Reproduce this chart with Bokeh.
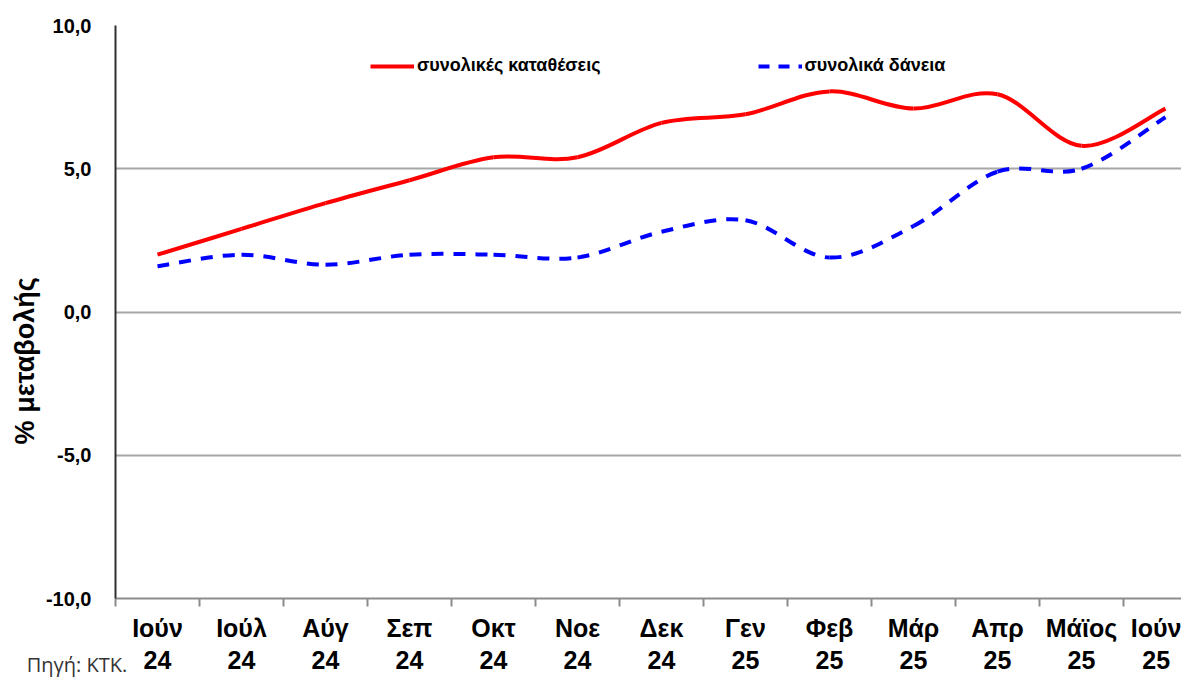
import numpy as np
from bokeh.plotting import figure
from bokeh.models import FixedTicker, Legend, LegendItem, ColumnDataSource, Range1d
from bokeh.embed import file_html
from bokeh.resources import INLINE

months = ["Ιούν", "Ιούλ", "Αύγ", "Σεπ", "Οκτ", "Νοε", "Δεκ", "Γεν", "Φεβ", "Μάρ", "Απρ", "Μάϊος", "Ιούν"]
years = ["24", "24", "24", "24", "24", "24", "24", "25", "25", "25", "25", "25", "25"]
deposits = [2.0, 2.9, 3.8, 4.6, 5.4, 5.4, 6.6, 6.9, 7.7, 7.1, 7.6, 5.8, 7.1]
loans = [1.6, 2.0, 1.65, 2.0, 2.0, 1.9, 2.8, 3.2, 1.9, 3.0, 4.9, 5.0, 6.8]
y_ticks = [-10, -5, 0, 5, 10]
y_labels = ["-10,0", "-5,0", "0,0", "5,0", "10,0"]
source_note = "Πηγή: ΚΤΚ."

FONT = "Liberation Sans"
W, H = 1181, 680
LEFT, TOP, BOTTOM = 115, 25, 80
CAT_PX = 84.0

n = len(months)
x_end = (W - LEFT) / CAT_PX
xs = np.arange(n) + 0.5

p = figure(width=W, height=H, output_backend="svg", toolbar_location=None,
           x_range=(0, x_end), y_range=(-10, 10),
           min_border_left=LEFT, min_border_right=0, min_border_top=TOP,
           min_border_bottom=BOTTOM)
p.outline_line_color = None
p.background_fill_color = "white"
p.border_fill_color = "white"
p.extra_x_ranges = {"hidden": Range1d(1000, 1001)}

# x axis
p.xaxis.ticker = FixedTicker(ticks=list(xs), minor_ticks=list(range(n)))
p.xaxis.major_label_overrides = {float(x): f"{m}\n{y}" for x, m, y in zip(xs, months, years)}
p.xaxis.major_tick_line_color = None
p.xaxis.major_tick_out = 0
p.xaxis.major_tick_in = 0
p.xaxis.minor_tick_in = 0
p.xaxis.minor_tick_out = 8
p.xaxis.minor_tick_line_color = "#8c8c8c"
p.xaxis.minor_tick_line_width = 2
p.xaxis.axis_line_color = "#8c8c8c"
p.xaxis.axis_line_width = 2
p.xaxis.major_label_text_font = FONT
p.xaxis.major_label_text_font_style = "bold"
p.xaxis.major_label_text_font_size = "25px"
p.xaxis.major_label_text_color = "black"
p.xaxis.major_label_standoff = 7
p.xaxis.major_label_text_line_height = 1.15
# source note, drawn as the x axis title, pushed to the left corner with padding
p.xaxis.axis_label = source_note + "\u00a0" * 220
p.xaxis.axis_label_text_font = "Open Sans"
p.xaxis.axis_label_text_font_style = "normal"
p.xaxis.axis_label_text_font_size = "20px"
p.xaxis.axis_label_text_color = "#333333"
p.xaxis.axis_label_standoff = -26
p.xgrid.grid_line_color = None

# y axis
p.yaxis.ticker = FixedTicker(ticks=y_ticks, minor_ticks=[])
p.yaxis.major_label_overrides = {t: l for t, l in zip(y_ticks, y_labels)}
p.yaxis.major_tick_line_color = None
p.yaxis.minor_tick_line_color = None
p.yaxis.axis_line_color = "#303030"
p.yaxis.axis_line_width = 2
p.yaxis.major_label_text_font = FONT
p.yaxis.major_label_text_font_style = "bold"
p.yaxis.major_label_text_font_size = "20px"
p.yaxis.major_label_text_color = "black"
p.yaxis.major_label_standoff = 18
p.yaxis.axis_label = "% μεταβολής" + "\u00a0" * 13
p.yaxis.axis_label_text_font = FONT
p.yaxis.axis_label_text_font_style = "bold"
p.yaxis.axis_label_text_font_size = "27px"
p.yaxis.axis_label_text_color = "black"
p.yaxis.axis_label_standoff = 3
p.ygrid.grid_line_color = "#a6a6a6"
p.ygrid.grid_line_width = 2


def smooth(xv, yv, t=1.0 / 6.0):
    xv = np.asarray(xv, float)
    yv = np.asarray(yv, float)
    px = np.concatenate([[xv[0]], xv, [xv[-1]]])
    py = np.concatenate([[yv[0]], yv, [yv[-1]]])
    m = len(xv) - 1
    d = dict(x0=[], y0=[], x1=[], y1=[], cx0=[], cy0=[], cx1=[], cy1=[])
    for i in range(m):
        a, b = i + 1, i + 2
        d["x0"].append(px[a]); d["y0"].append(py[a])
        d["x1"].append(px[b]); d["y1"].append(py[b])
        d["cx0"].append(px[a] + (px[b] - px[a - 1]) * t)
        d["cy0"].append(py[a] + (py[b] - py[a - 1]) * t)
        d["cx1"].append(px[b] - (px[b + 1] - px[a]) * t)
        d["cy1"].append(py[b] - (py[b + 1] - py[a]) * t)
    return ColumnDataSource(d)


RED = "#ff0000"
BLUE = "#0000ff"
p.bezier("x0", "y0", "x1", "y1", "cx0", "cy0", "cx1", "cy1", source=smooth(xs, loans),
         line_color=BLUE, line_width=4, line_dash="12 10")
p.bezier("x0", "y0", "x1", "y1", "cx0", "cy0", "cx1", "cy1", source=smooth(xs, deposits),
         line_color=RED, line_width=4)

# legend proxies (drawn on an off-screen range, only their legend glyphs show)
r_dep = p.line(xs, deposits, x_range_name="hidden", line_color=RED, line_width=4)
r_loan = p.line(xs, loans, x_range_name="hidden", line_color=BLUE, line_width=4, line_dash="11 9")

legend = Legend(items=[LegendItem(label="συνολικές καταθέσεις", renderers=[r_dep]),
                       LegendItem(label="συνολικά δάνεια", renderers=[r_loan])],
                orientation="horizontal", location=(255, 522),
                glyph_width=44, glyph_height=20, label_standoff=3, spacing=157,
                padding=0, margin=0, border_line_color=None,
                background_fill_alpha=0,
                label_text_font=FONT, label_text_font_style="bold",
                label_text_font_size="18px", label_text_color="black")
p.add_layout(legend, "center")

open("out.html", "w").write(file_html(p, INLINE))
